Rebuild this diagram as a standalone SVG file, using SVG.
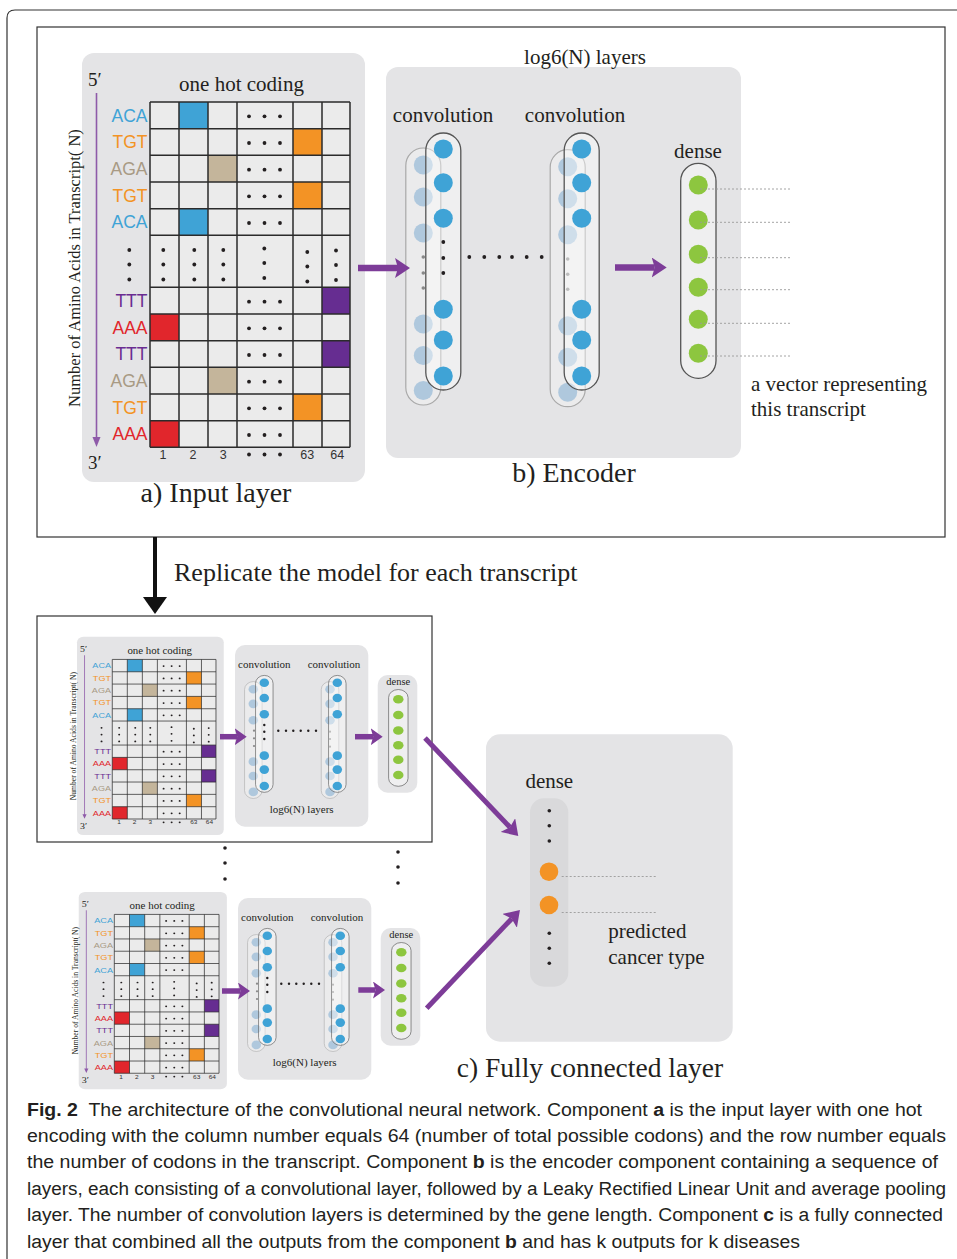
<svg xmlns="http://www.w3.org/2000/svg" xmlns:xlink="http://www.w3.org/1999/xlink" width="957" height="1259" viewBox="0 0 957 1259">
<style>
.serif{font-family:"Liberation Serif","Times New Roman",serif;fill:#231f20}
.sans{font-family:"Liberation Sans",Arial,sans-serif}
.panel{fill:#e4e4e6}
.grid{fill:none;stroke:#2b2b2b;stroke-width:1.5}
.dot{fill:#231f20}
.dash{fill:none;stroke:#9a9a9a;stroke-width:0.9;stroke-dasharray:2 2}
.pa{fill:none;stroke:#7d3c98}
.cap{font-family:"Liberation Sans",Arial,sans-serif;font-size:18px;fill:#231f20}
.frame{fill:none;stroke:#333;stroke-width:1.2}
</style>
<defs>
<marker id="headBig" markerUnits="userSpaceOnUse" viewBox="0 0 15 20" markerWidth="15" markerHeight="20" refX="3" refY="10" orient="auto"><path d="M0,0 L15,10 L0,20 L3,10 z" fill="#7d3c98"/></marker>
<marker id="headSmall" markerUnits="userSpaceOnUse" viewBox="0 0 12 17" markerWidth="12" markerHeight="17" refX="2.5" refY="8.5" orient="auto"><path d="M0,0 L12,8.5 L0,17 L2.5,8.5 z" fill="#7d3c98"/></marker>
<g id="tri" class="dot"><circle cx="249" cy="0" r="1.9"/><circle cx="264.5" cy="0" r="1.9"/><circle cx="280" cy="0" r="1.9"/></g>
<g id="vtri" class="dot"><circle cx="0" cy="250" r="1.9"/><circle cx="0" cy="264.5" r="1.9"/><circle cx="0" cy="279.5" r="1.9"/></g>
<g id="inputPanel">
<rect class="panel" x="82" y="53" width="283" height="429" rx="12"/>
<text class="serif" x="88" y="86" font-size="19">5′</text>
<text class="serif" x="88" y="469" font-size="19">3′</text>
<text class="serif" x="241.5" y="91" font-size="21" text-anchor="middle">one hot coding</text>
<line x1="96.5" y1="93" x2="96.5" y2="439" stroke="#8e5aa9" stroke-width="1.6"/>
<path d="M92.5,437 L100.5,437 L96.5,447 z" fill="#8e5aa9"/>
<text class="serif" transform="translate(80,268) rotate(-90)" text-anchor="middle" font-size="16.5">Number of Amino Acids in Transcript( N)</text>
<rect x="150" y="102" width="200" height="345.3" fill="#ebebeb"/>
<rect x="179" y="102" width="29" height="26.7" fill="#3fa3d6"/>
<rect x="293" y="128.7" width="29" height="26.7" fill="#f39325"/>
<rect x="208" y="155.3" width="29" height="26.7" fill="#c4b59b"/>
<rect x="293" y="182" width="29" height="26.7" fill="#f39325"/>
<rect x="179" y="208.7" width="29" height="26.7" fill="#3fa3d6"/>
<rect x="322" y="287.3" width="28" height="26.7" fill="#662d91"/>
<rect x="150" y="314" width="29" height="26.7" fill="#e1262c"/>
<rect x="322" y="340.7" width="28" height="26.7" fill="#662d91"/>
<rect x="208" y="367.3" width="29" height="26.7" fill="#c4b59b"/>
<rect x="293" y="394" width="29" height="26.7" fill="#f39325"/>
<rect x="150" y="420.7" width="29" height="26.7" fill="#e1262c"/>
<path class="grid" d="M150,102V447.3M179,102V447.3M208,102V447.3M237,102V447.3M293,102V447.3M322,102V447.3M350,102V447.3M150,102H350M150,128.7H350M150,155.3H350M150,182H350M150,208.7H350M150,235.3H350M150,287.3H350M150,314H350M150,340.7H350M150,367.3H350M150,394H350M150,420.7H350M150,447.3H350"/>
<use href="#tri" y="116.3"/><use href="#tri" y="143"/><use href="#tri" y="169.7"/><use href="#tri" y="196.3"/><use href="#tri" y="223"/>
<use href="#tri" y="301.7"/><use href="#tri" y="328.3"/><use href="#tri" y="355"/><use href="#tri" y="381.7"/><use href="#tri" y="408.3"/><use href="#tri" y="435"/>
<use href="#vtri" x="129.3"/><use href="#vtri" x="163.3"/><use href="#vtri" x="194.3"/><use href="#vtri" x="223.3"/><use href="#vtri" x="264.3" y="-1.5"/><use href="#vtri" x="307.3" y="2"/><use href="#vtri" x="336" y="0.5"/>
<g class="sans" font-size="17.5" text-anchor="end">
<text x="147.5" y="121.6" fill="#3fa3d6">ACA</text>
<text x="147.5" y="148.3" fill="#f39325">TGT</text>
<text x="147.5" y="175" fill="#a89a84">AGA</text>
<text x="147.5" y="201.6" fill="#f39325">TGT</text>
<text x="147.5" y="228.3" fill="#3fa3d6">ACA</text>
<text x="147.5" y="307" fill="#6a2c91">TTT</text>
<text x="147.5" y="333.6" fill="#e1262c">AAA</text>
<text x="147.5" y="360.3" fill="#6a2c91">TTT</text>
<text x="147.5" y="387" fill="#a89a84">AGA</text>
<text x="147.5" y="413.6" fill="#f39325">TGT</text>
<text x="147.5" y="440.3" fill="#e1262c">AAA</text>
</g>
<g class="sans" font-size="12.5" text-anchor="middle" fill="#333">
<text x="163" y="459">1</text><text x="193" y="459">2</text><text x="223.3" y="459">3</text><text x="307.3" y="459">63</text><text x="337.3" y="459">64</text>
</g>
<use href="#tri" y="454.5"/>
</g>
<g id="colBack">
<rect x="-17.5" y="-17" width="35" height="257" rx="17.5" fill="#ffffff" fill-opacity="0.25" stroke="#a9a9a9" stroke-width="1.2"/>
<g fill="#8fb6d6" fill-opacity="0.65"><circle cx="0" cy="0" r="9.5"/><circle cx="0" cy="32" r="9.5"/><circle cx="0" cy="68" r="9.5"/><circle cx="0" cy="159" r="9.5"/><circle cx="0" cy="190.5" r="9.5"/><circle cx="0" cy="225.5" r="9.5"/></g>
</g>
<g id="colFront">
<rect x="-17.5" y="-16" width="35" height="257" rx="17.5" fill="#ffffff" fill-opacity="0.4" stroke="#555" stroke-width="1.3"/>
<g fill="#3fa3d6"><circle cx="0" cy="0" r="9.5"/><circle cx="0" cy="33.7" r="9.5"/><circle cx="0" cy="69.3" r="9.5"/><circle cx="0" cy="160.3" r="9.5"/><circle cx="0" cy="191" r="9.5"/><circle cx="0" cy="227" r="9.5"/></g>
</g>
<g id="denseCol">
<rect x="-17.6" y="-21.7" width="35.3" height="215" rx="17.6" fill="#ffffff" fill-opacity="0.4" stroke="#555" stroke-width="1.3"/>
<g fill="#8dc63f"><circle cx="0" cy="0" r="9.5"/><circle cx="0" cy="35" r="9.5"/><circle cx="0" cy="69.3" r="9.5"/><circle cx="0" cy="102.3" r="9.5"/><circle cx="0" cy="134.3" r="9.5"/><circle cx="0" cy="168.3" r="9.5"/></g>
</g>
<g id="smallEnc">
<rect class="panel" x="235" y="645" width="133.3" height="181.7" rx="10"/>
<text class="serif" x="264.3" y="668.3" font-size="11" text-anchor="middle">convolution</text>
<text class="serif" x="334" y="668.3" font-size="11" text-anchor="middle">convolution</text>
<use href="#colBack" transform="translate(253.3,689.3) scale(0.5,0.455)"/>
<use href="#colFront" transform="translate(264.3,682.7) scale(0.5,0.455)"/>
<g class="dot"><circle cx="264.3" cy="725" r="1.2"/><circle cx="264.3" cy="731.7" r="1.2"/><circle cx="264.3" cy="739" r="1.2"/></g>
<g fill="#888"><circle cx="254" cy="730.7" r="1.1"/><circle cx="254" cy="738.3" r="1.1"/><circle cx="254" cy="746" r="1.1"/></g>
<g class="dot"><circle cx="278.3" cy="730.7" r="1.2"/><circle cx="286" cy="730.7" r="1.2"/><circle cx="293.3" cy="730.7" r="1.2"/><circle cx="300.7" cy="730.7" r="1.2"/><circle cx="308.3" cy="730.7" r="1.2"/><circle cx="316" cy="730.7" r="1.2"/></g>
<use href="#colBack" transform="translate(330,689.3) scale(0.5,0.455)"/>
<use href="#colFront" transform="translate(337.3,682.7) scale(0.5,0.455)"/>
<g fill="#bbb"><circle cx="330" cy="731.7" r="1.1"/><circle cx="330" cy="739" r="1.1"/><circle cx="330" cy="746.7" r="1.1"/></g>
<text class="serif" x="301.7" y="812.7" font-size="11" text-anchor="middle">log6(N) layers</text>
<rect class="panel" x="377.7" y="675" width="39.6" height="117.7" rx="10"/>
<text class="serif" x="398.3" y="685" font-size="10.5" text-anchor="middle">dense</text>
<use href="#denseCol" transform="translate(398.3,699.3) scale(0.55,0.45)"/>
</g>
</defs>
<rect width="957" height="1259" fill="#ffffff"/>
<path class="frame" d="M7,1259 L7,18 Q7,10 15,10 L957,10"/>
<rect id="topFrame" class="frame" x="37" y="27" width="908" height="510"/>
<g id="inputLayer">
<use href="#inputPanel"/>
<text class="serif" x="216" y="502" font-size="28" text-anchor="middle">a) Input layer</text>
</g>
<g id="encoder">
<rect class="panel" x="386" y="67" width="355" height="391" rx="12"/>
<text class="serif" x="585" y="64" font-size="21" text-anchor="middle">log6(N) layers</text>
<text class="serif" x="443" y="122" font-size="21" text-anchor="middle">convolution</text>
<text class="serif" x="575" y="122" font-size="21" text-anchor="middle">convolution</text>
<use href="#colBack" transform="translate(423.3,165)"/>
<use href="#colFront" transform="translate(443.3,149)"/>
<g class="dot"><circle cx="443.3" cy="242" r="1.9"/><circle cx="443.3" cy="258" r="1.9"/><circle cx="443.3" cy="273" r="1.9"/></g>
<g fill="#888"><circle cx="423.3" cy="257" r="1.8"/><circle cx="423.3" cy="273" r="1.8"/><circle cx="423.3" cy="288" r="1.8"/></g>
<g class="dot"><circle cx="469.3" cy="257" r="1.9"/><circle cx="484.3" cy="257" r="1.9"/><circle cx="499.3" cy="257" r="1.9"/><circle cx="512" cy="257" r="1.9"/><circle cx="526.7" cy="257" r="1.9"/><circle cx="541.7" cy="257" r="1.9"/></g>
<use href="#colBack" transform="translate(567.7,166.7)"/>
<use href="#colFront" transform="translate(581.7,149)"/>
<g fill="#bdbdbd"><circle cx="567.7" cy="259" r="1.8"/><circle cx="567.7" cy="274.3" r="1.8"/><circle cx="567.7" cy="289.3" r="1.8"/></g>
<text class="serif" x="574" y="482" font-size="28" text-anchor="middle">b) Encoder</text>
</g>
<g id="denseTop">
<text class="serif" x="698" y="158" font-size="21" text-anchor="middle">dense</text>
<use href="#denseCol" transform="translate(698.3,185)"/>
<path class="dash" d="M700,189H790M700,222.3H792M700,257.7H792M700,289.7H792M700,323.3H792M700,356H792"/>
<text class="serif" x="751" y="391" font-size="21">a vector representing</text>
<text class="serif" x="751" y="416" font-size="21">this transcript</text>
</g>
<text id="replicateLabel" class="serif" x="174" y="581" font-size="26">Replicate the model for each transcript</text>
<rect id="modelFrame1" class="frame" x="37" y="616" width="395" height="226"/>
<g id="model1">
<use href="#inputPanel" transform="translate(34.5,612.3) scale(0.5185,0.4621)"/>
<use href="#smallEnc"/>
</g>
<g id="model2">
<use href="#inputPanel" transform="translate(35.8,867.5) scale(0.5235,0.46)"/>
<use href="#smallEnc" transform="translate(3,253)"/>
</g>
<g id="ellipsis" class="dot">
<circle cx="225" cy="848" r="1.8"/><circle cx="225" cy="863" r="1.8"/><circle cx="225" cy="879" r="1.8"/>
<circle cx="398" cy="852" r="1.8"/><circle cx="398" cy="867" r="1.8"/><circle cx="398" cy="883" r="1.8"/>
</g>
<g id="fullyConnected">
<rect class="panel" x="486" y="734.3" width="246.7" height="307.4" rx="14"/>
<text class="serif" x="549.3" y="788" font-size="21" text-anchor="middle">dense</text>
<rect x="530" y="798.3" width="38.3" height="188.4" rx="14" fill="#d9d9db"/>
<g class="dot"><circle cx="549.3" cy="810.7" r="1.8"/><circle cx="549.3" cy="825.7" r="1.8"/><circle cx="549.3" cy="841" r="1.8"/><circle cx="549.3" cy="933.3" r="1.8"/><circle cx="549.3" cy="948.3" r="1.8"/><circle cx="549.3" cy="963.3" r="1.8"/></g>
<circle cx="549" cy="871.7" r="9.3" fill="#f39325"/>
<circle cx="549" cy="905" r="9.3" fill="#f39325"/>
<path class="dash" d="M561.7,876.5H656M561.7,912.5H656"/>
<text class="serif" x="608.3" y="938.3" font-size="21">predicted</text>
<text class="serif" x="608.3" y="963.5" font-size="21">cancer type</text>
<text class="serif" x="590" y="1077" font-size="27.5" text-anchor="middle">c) Fully connected layer</text>
</g>
<g id="connectors">
<line class="pa" x1="358" y1="268" x2="398" y2="268" stroke-width="6.5" marker-end="url(#headBig)"/>
<line class="pa" x1="615" y1="267.5" x2="654.7" y2="267.5" stroke-width="6.5" marker-end="url(#headBig)"/>
<line x1="155" y1="537" x2="155" y2="599" stroke="#111" stroke-width="4"/>
<path d="M143,597 L167,597 L155,614 z" fill="#111"/>
<line class="pa" x1="220" y1="736.7" x2="237.2" y2="736.7" stroke-width="5.5" marker-end="url(#headSmall)"/>
<line class="pa" x1="355" y1="736.7" x2="373.2" y2="736.7" stroke-width="5.5" marker-end="url(#headSmall)"/>
<line class="pa" x1="222" y1="991" x2="240.5" y2="991" stroke-width="5.5" marker-end="url(#headSmall)"/>
<line class="pa" x1="358.3" y1="990" x2="375.5" y2="990" stroke-width="5.5" marker-end="url(#headSmall)"/>
<line class="pa" x1="425" y1="738" x2="510" y2="827.3" stroke-width="5" marker-end="url(#headBig)"/>
<line class="pa" x1="426.7" y1="1008.3" x2="511.7" y2="918.7" stroke-width="5" marker-end="url(#headBig)"/>
</g>
<g id="caption">
<text class="cap" x="27" y="1116" textLength="895" lengthAdjust="spacingAndGlyphs"><tspan font-weight="bold">Fig. 2</tspan>&#160; The architecture of the convolutional neural network. Component <tspan font-weight="bold">a</tspan> is the input layer with one hot</text>
<text class="cap" x="27" y="1142" textLength="919" lengthAdjust="spacingAndGlyphs">encoding with the column number equals 64 (number of total possible codons) and the row number equals</text>
<text class="cap" x="27" y="1168" textLength="911" lengthAdjust="spacingAndGlyphs">the number of codons in the transcript. Component <tspan font-weight="bold">b</tspan> is the encoder component containing a sequence of</text>
<text class="cap" x="27" y="1195" textLength="919" lengthAdjust="spacingAndGlyphs">layers, each consisting of a convolutional layer, followed by a Leaky Rectified Linear Unit and average pooling</text>
<text class="cap" x="27" y="1221" textLength="916" lengthAdjust="spacingAndGlyphs">layer. The number of convolution layers is determined by the gene length. Component <tspan font-weight="bold">c</tspan> is a fully connected</text>
<text class="cap" x="27" y="1248" textLength="773" lengthAdjust="spacingAndGlyphs">layer that combined all the outputs from the component <tspan font-weight="bold">b</tspan> and has k outputs for k diseases</text>
</g>
</svg>
